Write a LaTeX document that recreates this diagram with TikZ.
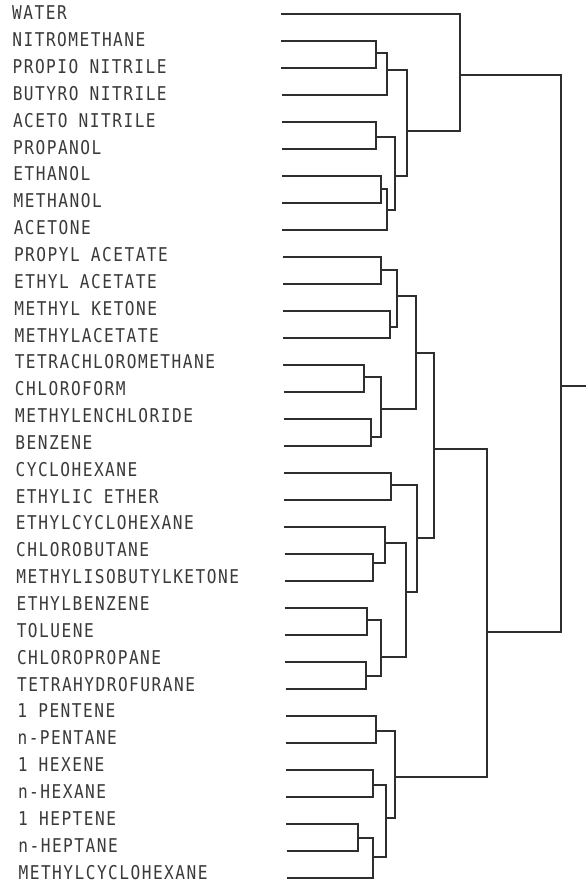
\documentclass[tikz,border=0pt]{standalone}
\usepackage{fontspec}
\newfontfamily\labfont[FakeStretch=0.85,LetterSpace=7.8]{DejaVu Sans Mono}
\definecolor{ink}{HTML}{2E2E2E}
\definecolor{txt}{HTML}{3A3A3A}
\tikzset{
  lab/.style={anchor=base west, inner sep=0pt, font=\labfont\fontsize{19}{20}\selectfont, text=txt},
  link/.style={draw=ink, line width=2.2pt, line join=miter}
}
\begin{document}
\begin{tikzpicture}[x=1pt,y=-1pt]
\useasboundingbox (0,0) rectangle (586,884);
\fill[white] (0,0) rectangle (586,884);
\foreach \i/\t in {0/WATER,1/NITROMETHANE,2/PROPIO NITRILE,3/BUTYRO NITRILE,4/ACETO NITRILE,5/PROPANOL,6/ETHANOL,7/METHANOL,8/ACETONE,9/PROPYL ACETATE,10/ETHYL ACETATE,11/METHYL KETONE,12/METHYLACETATE,13/TETRACHLOROMETHANE,14/CHLOROFORM,15/METHYLENCHLORIDE,16/BENZENE,17/CYCLOHEXANE,18/ETHYLIC ETHER,19/ETHYLCYCLOHEXANE,20/CHLOROBUTANE,21/METHYLISOBUTYLKETONE,22/ETHYLBENZENE,23/TOLUENE,24/CHLOROPROPANE,25/TETRAHYDROFURANE,26/1 PENTENE,27/n-PENTANE,28/1 HEXENE,29/n-HEXANE,30/1 HEPTENE,31/n-HEPTANE,32/METHYLCYCLOHEXANE}{
  \coordinate (L\i) at ({281+0.18*\i},{14+27*\i});
  \node[lab] (t\i) at ({12+0.2*\i},{19.8+26.85*\i}) {\t};
}
% cluster junctions (x of vertical bar, y of outgoing stub)
\coordinate (A) at (376,53);
\coordinate (B) at (387,70);
\coordinate (C) at (376,137);
\coordinate (D) at (381,189);
\coordinate (E) at (387,210);
\coordinate (F) at (395,176);
\coordinate (G) at (407,131);
\coordinate (H) at (460,75);
\coordinate (P1) at (381,270);
\coordinate (P2) at (390,327);
\coordinate (I) at (397,296);
\coordinate (Q1) at (364,377);
\coordinate (Q2) at (371,437);
\coordinate (J) at (381,409);
\coordinate (K) at (416,353);
\coordinate (S1) at (391,485);
\coordinate (S2) at (373,563);
\coordinate (S3) at (385,543);
\coordinate (S4) at (367,620);
\coordinate (S5) at (366,676);
\coordinate (S6) at (381,657);
\coordinate (S7) at (406,592);
\coordinate (M) at (417,538);
\coordinate (LL) at (434,449);
\coordinate (T1) at (376,731);
\coordinate (T2) at (373,785);
\coordinate (T3) at (358,838);
\coordinate (T4) at (373,857);
\coordinate (T5) at (386,818);
\coordinate (O) at (395,777);
\coordinate (N) at (487,632);
\coordinate (R) at (561,386);
\coordinate (Rend) at (586,386);
\foreach \c/\p in {L1/A,L2/A,A/B,L3/B,L4/C,L5/C,L6/D,L7/D,D/E,L8/E,C/F,E/F,B/G,F/G,L0/H,G/H,
  L9/P1,L10/P1,L11/P2,L12/P2,P1/I,P2/I,L13/Q1,L14/Q1,L15/Q2,L16/Q2,Q1/J,Q2/J,I/K,J/K,
  L17/S1,L18/S1,L20/S2,L21/S2,L19/S3,S2/S3,L22/S4,L23/S4,L24/S5,L25/S5,S4/S6,S5/S6,S3/S7,S6/S7,S1/M,S7/M,K/LL,M/LL,
  L26/T1,L27/T1,L28/T2,L29/T2,L30/T3,L31/T3,T3/T4,L32/T4,T2/T5,T4/T5,T1/O,T5/O,LL/N,O/N,H/R,N/R}{
  \draw[link] (\c) -| (\p);
}
\draw[link] (R) -- (Rend);
\end{tikzpicture}
\end{document}
